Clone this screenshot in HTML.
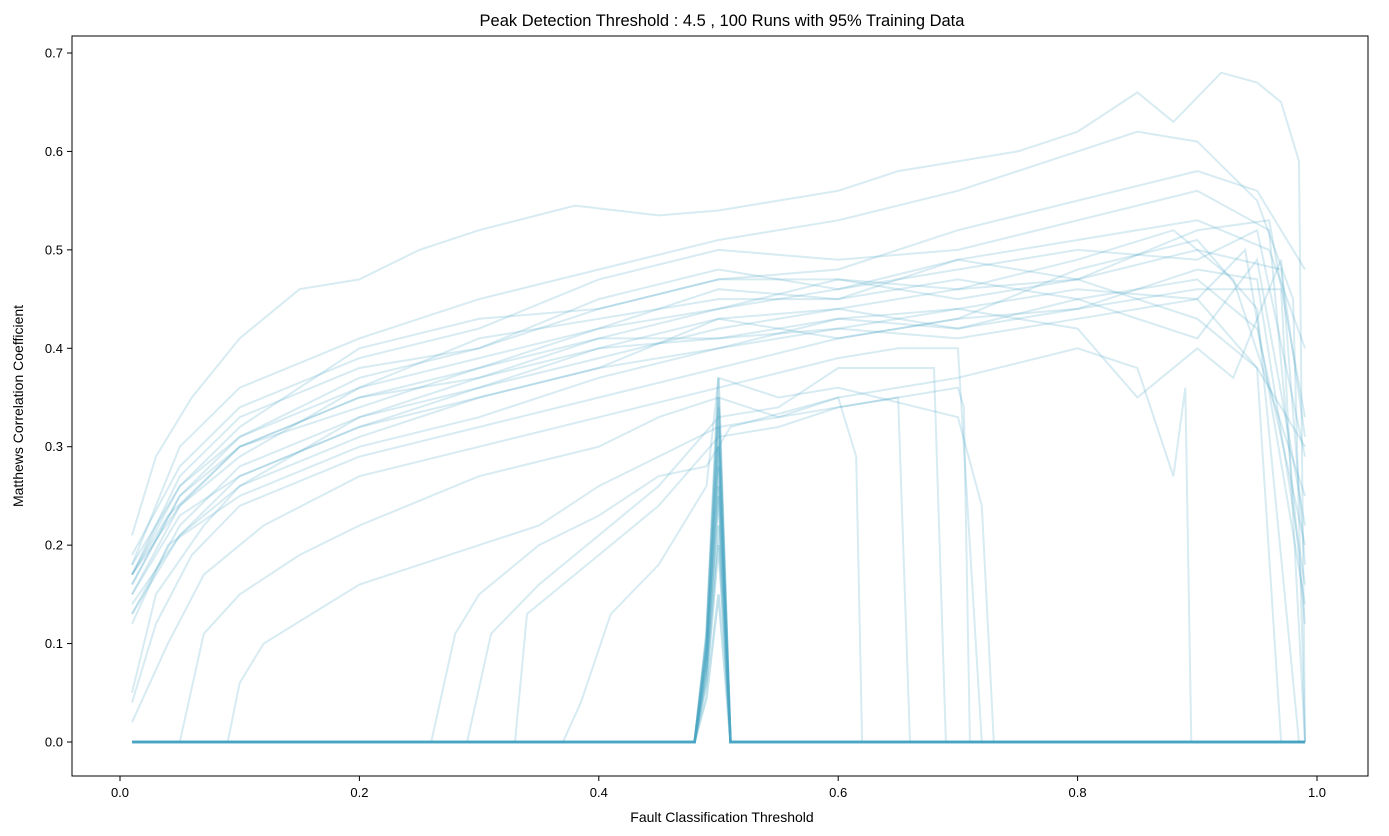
<!DOCTYPE html>
<html><head><meta charset="utf-8"><style>
body{margin:0;background:#fff;}
svg{display:block;font-family:"Liberation Sans","DejaVu Sans",sans-serif;}
</style></head><body>
<svg id="chart" width="1389" height="836" viewBox="0 0 1389 836">
<rect x="0" y="0" width="1389" height="836" fill="#fff"/>
<text x="722" y="26" text-anchor="middle" font-size="16.5" fill="#000">Peak Detection Threshold : 4.5 , 100 Runs with 95% Training Data</text>
<g id="lines"></g>
<rect x="72" y="36" width="1296" height="740" fill="none" stroke="#000" stroke-width="1"/>
<g id="xticks"></g>
<g id="yticks"></g>
<text x="722" y="822" text-anchor="middle" font-size="14">Fault Classification Threshold</text>
<text transform="translate(23,406) rotate(-90)" text-anchor="middle" font-size="14">Matthews Correlation Coefficient</text>
</svg>
<script>
const xTicks=[0.0,0.2,0.4,0.6,0.8,1.0];
const xTickLabels=["0.0","0.2","0.4","0.6","0.8","1.0"];
const yTicks=[0,0.1,0.2,0.3,0.4,0.5,0.6,0.7];
const yTickLabels=["0.0","0.1","0.2","0.3","0.4","0.5","0.6","0.7"];
const spikePeaks=[0.37,0.35,0.34,0.32,0.30,0.28,0.25,0.22,0.2,0.15,0.3,0.26];
const curveA=[[.01,.21],[.03,.29],[.06,.35],[.1,.41],[.15,.46],[.2,.47],[.25,.5],[.3,.52],[.38,.545],[.45,.535],[.5,.54],[.55,.55],[.6,.56],[.65,.58],[.7,.59],[.75,.6],[.8,.62],[.85,.66],[.88,.63],[.92,.68],[.95,.67],[.97,.65],[.985,.59],[.99,0]];
const curveB=[[.01,.18],[.05,.3],[.1,.36],[.2,.41],[.3,.45],[.4,.48],[.5,.51],[.6,.53],[.7,.56],[.8,.6],[.85,.62],[.9,.61],[.95,.55],[.98,.45],[.99,0]];
const curveC=[[.01,.17],[.05,.26],[.1,.31],[.2,.37],[.3,.4],[.4,.44],[.5,.47],[.6,.48],[.7,.52],[.8,.55],[.9,.58],[.95,.56],[.99,.48]];
const curveD=[[.01,.16],[.05,.25],[.1,.3],[.2,.34],[.3,.38],[.4,.42],[.5,.44],[.6,.46],[.7,.49],[.8,.51],[.9,.53],[.96,.5],[.99,.4]];
const curveE=[[.01,.13],[.05,.22],[.1,.28],[.2,.33],[.3,.36],[.4,.39],[.5,.42],[.6,.44],[.7,.46],[.8,.47],[.9,.5],[.97,.48],[.99,.31]];
const curveF=[[.01,.12],[.04,.2],[.1,.25],[.2,.3],[.3,.33],[.4,.37],[.5,.4],[.6,.43],[.7,.44],[.8,.46],[.9,.45],[.95,.38],[.99,.3]];
const curveG=[[.01,.04],[.03,.12],[.06,.19],[.1,.24],[.2,.29],[.3,.32],[.4,.35],[.5,.38],[.6,.41],[.7,.43],[.8,.44],[.9,.46],[.97,.46],[.99,0]];
const curveH=[[.01,.02],[.04,.1],[.07,.17],[.12,.22],[.2,.27],[.3,.3],[.4,.33],[.5,.36],[.6,.39],[.65,.4],[.7,.4],[.72,0],[.99,0]];
const curveI=[[.01,0],[.05,0],[.07,.11],[.1,.15],[.15,.19],[.2,.22],[.3,.27],[.4,.3],[.45,.33],[.5,.35],[.55,.33],[.6,.35],[.615,.29],[.62,0],[.99,0]];
const curveJ=[[.01,0],[.09,0],[.1,.06],[.12,.1],[.2,.16],[.25,.18],[.3,.2],[.35,.22],[.4,.26],[.5,.32],[.55,.33],[.6,.34],[.65,.35],[.66,0],[.99,0]];
const curveK=[[.01,0],[.26,0],[.28,.11],[.3,.15],[.35,.2],[.4,.23],[.45,.27],[.49,.28],[.51,.32],[.6,.35],[.7,.37],[.8,.4],[.85,.38],[.88,.27],[.89,.36],[.895,0],[.99,0]];
const curveL=[[.01,0],[.29,0],[.31,.11],[.35,.16],[.4,.21],[.45,.26],[.5,.33],[.55,.34],[.6,.38],[.68,.38],[.69,0],[.99,0]];
const curveM=[[.01,0],[.33,0],[.34,.13],[.36,.15],[.4,.19],[.45,.24],[.5,.31],[.55,.32],[.6,.34],[.7,.36],[.705,.34],[.71,0],[.99,0]];
const curveN=[[.01,0],[.37,0],[.385,.04],[.41,.13],[.45,.18],[.49,.26],[.5,.37],[.55,.35],[.6,.36],[.7,.33],[.72,.24],[.73,0],[.99,0]];
const curveO=[[.01,.17],[.05,.24],[.1,.29],[.2,.36],[.3,.41],[.4,.43],[.5,.45],[.6,.45],[.7,.47],[.8,.45],[.9,.47],[.95,.42],[.99,.2]];
const curveP=[[.01,.19],[.05,.28],[.1,.34],[.2,.39],[.3,.42],[.4,.47],[.5,.5],[.6,.49],[.7,.5],[.8,.53],[.9,.56],[.96,.52],[.99,.12]];
const curveQ=[[.01,.15],[.05,.23],[.1,.27],[.2,.32],[.3,.36],[.4,.4],[.5,.41],[.6,.42],[.7,.44],[.8,.42],[.85,.35],[.9,.4],[.93,.37],[.97,.49],[.99,.18]];
const curveR=[[.01,.17],[.05,.27],[.1,.33],[.2,.38],[.3,.4],[.4,.45],[.5,.48],[.6,.46],[.7,.48],[.8,.5],[.9,.49],[.95,.52],[.99,.29]];
const curveS=[[.01,.14],[.05,.21],[.1,.26],[.2,.31],[.3,.35],[.4,.38],[.5,.43],[.6,.41],[.7,.43],[.8,.48],[.9,.51],[.95,.44],[.985,0],[.99,0]];
const curveT=[[.01,.05],[.03,.15],[.07,.22],[.1,.26],[.2,.33],[.3,.37],[.4,.41],[.5,.44],[.6,.47],[.7,.45],[.8,.47],[.9,.43],[.95,.38],[.97,0],[.99,0]];
const curveU=[[.01,.17],[.04,.23],[.1,.3],[.2,.35],[.3,.38],[.4,.41],[.5,.41],[.6,.43],[.7,.42],[.8,.44],[.9,.48],[.95,.47],[.99,.16]];
const curveV=[[.01,.18],[.05,.26],[.1,.32],[.2,.4],[.3,.43],[.4,.44],[.5,.47],[.6,.47],[.7,.46],[.8,.49],[.88,.52],[.93,.47],[.99,.25]];
const curveW=[[.01,.15],[.05,.24],[.1,.3],[.2,.35],[.3,.37],[.4,.4],[.5,.43],[.6,.44],[.7,.42],[.8,.45],[.9,.41],[.95,.49],[.99,.22]];
const curveX=[[.01,.13],[.05,.21],[.1,.27],[.2,.32],[.3,.35],[.4,.38],[.5,.4],[.6,.42],[.7,.41],[.8,.43],[.9,.45],[.94,.5],[.99,.14]];
const curveY=[[.01,.16],[.05,.25],[.1,.31],[.2,.36],[.3,.39],[.4,.42],[.5,.46],[.6,.45],[.7,.49],[.8,.47],[.9,.52],[.96,.53],[.99,.33]];
const curves=[curveA,curveB,curveC,curveD,curveE,curveF,curveG,curveH,curveI,curveJ,curveK,curveL,curveM,curveN,curveO,curveP,curveQ,curveR,curveS,curveT,curveU,curveV,curveW,curveX,curveY];

const X0=120,X1=1317,Y0=742,Y1=53;
function sx(v){return X0+(X1-X0)*v;}
function sy(v){return Y0-(Y0-Y1)*v/0.7;}
const NS="http://www.w3.org/2000/svg";
const lines=document.getElementById('lines');
function draw(pts,w,op){
  const p=document.createElementNS(NS,'polyline');
  p.setAttribute('points',pts.map(d=>sx(d[0]).toFixed(1)+','+sy(d[1]).toFixed(1)).join(' '));
  p.setAttribute('fill','none');
  p.setAttribute('stroke','rgb(75,165,195)');
  p.setAttribute('stroke-opacity',op);
  p.setAttribute('stroke-width',w);
  
  
  lines.appendChild(p);
}
spikePeaks.forEach(h=>draw([[.01,0],[.48,0],[.49,h*0.3],[.5,h],[.51,0],[.99,0]],2.4,0.35));
curves.forEach(c=>draw(c,2,0.22));

const xg=document.getElementById('xticks');
xTicks.forEach((v,i)=>{
  const l=document.createElementNS(NS,'line');
  l.setAttribute('x1',sx(v));l.setAttribute('x2',sx(v));l.setAttribute('y1',776);l.setAttribute('y2',781);l.setAttribute('stroke','#000');
  
  
  xg.appendChild(l);
  const t=document.createElementNS(NS,'text');
  t.setAttribute('x',sx(v));t.setAttribute('y',797);t.setAttribute('text-anchor','middle');t.setAttribute('font-size','13');
  t.textContent=xTickLabels[i];
  
  
  xg.appendChild(t);
});
const yg=document.getElementById('yticks');
yTicks.forEach((v,i)=>{
  const l=document.createElementNS(NS,'line');
  l.setAttribute('x1',67);l.setAttribute('x2',72);l.setAttribute('y1',sy(v));l.setAttribute('y2',sy(v));l.setAttribute('stroke','#000');
  
  
  yg.appendChild(l);
  const t=document.createElementNS(NS,'text');
  t.setAttribute('x',63);t.setAttribute('y',sy(v)+4.5);t.setAttribute('text-anchor','end');t.setAttribute('font-size','13');
  t.textContent=yTickLabels[i];
  
  
  yg.appendChild(t);
});
</script>
</body></html>
